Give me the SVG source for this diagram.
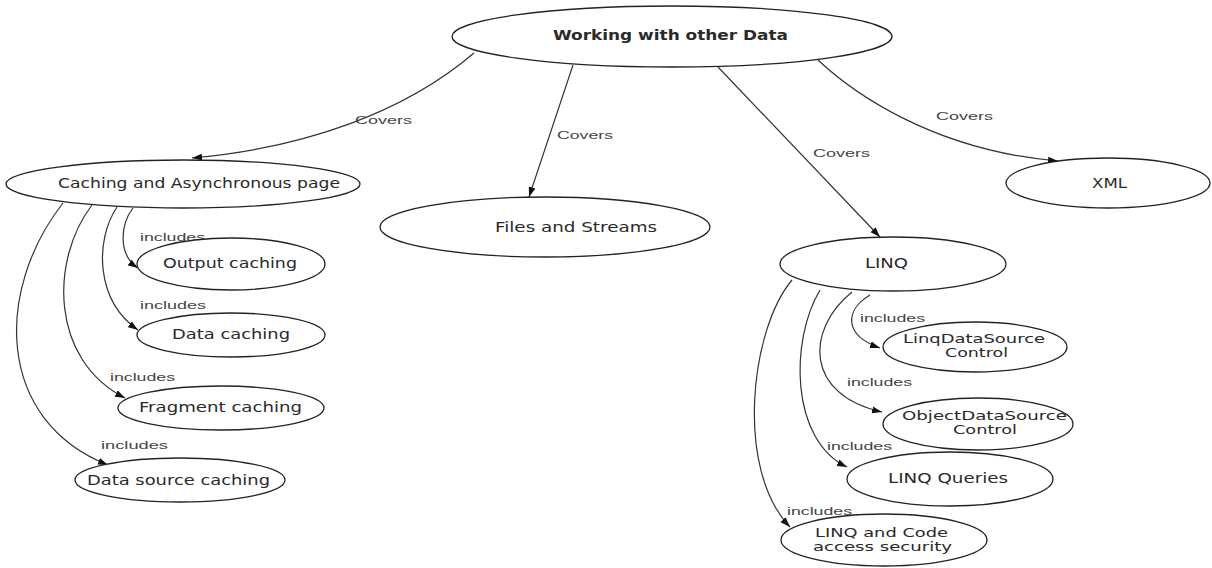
<svg xmlns="http://www.w3.org/2000/svg" width="1212" height="568" viewBox="0 0 1212 568">
<defs>
<style>
.node ellipse{fill:#fff;stroke:#222;stroke-width:1.3}
.node text{font-family:"DejaVu Sans",Verdana,sans-serif;font-size:13.5px;fill:#2a2a2a}
.node text.b{font-weight:bold}
.node text.s{font-size:12px}
.edge{fill:none;stroke:#333;stroke-width:1.2;marker-end:url(#arr)}
.lbl{font-family:"Liberation Sans",Arial,sans-serif;font-size:11.5px;fill:#444}
</style>
<marker id="arr" markerUnits="userSpaceOnUse" markerWidth="11" markerHeight="8" refX="10" refY="4" orient="auto">
<path d="M0,0.5 L10,4 L0,7.5 Z" fill="#111"/>
</marker>
</defs>
<rect width="1212" height="568" fill="#fff"/>
<g id="connectors">
<path class="edge" d="M474,53 C405,112 305,148 192,158"/>
<path class="edge" d="M573,65 L529,197"/>
<path class="edge" d="M718,67 L880,237"/>
<path class="edge" d="M818,60 C850,90 930,150 1058,161"/>
<path class="edge" d="M133,208 C120,225 118,255 138,268"/>
<path class="edge" d="M117,207 C95,240 95,300 138,330"/>
<path class="edge" d="M92,205 C50,260 50,360 125,398"/>
<path class="edge" d="M63,203 C-5,290 -5,420 108,465"/>
<path class="edge" d="M870,295 C845,310 843,335 880,348"/>
<path class="edge" d="M852,292 C805,330 805,395 882,412"/>
<path class="edge" d="M820,290 C790,340 790,440 847,467"/>
<path class="edge" d="M792,280 C750,330 735,470 790,527"/>
<text class="lbl" x="355" y="124" textLength="57" lengthAdjust="spacingAndGlyphs">Covers</text>
<text class="lbl" x="557" y="139" textLength="56" lengthAdjust="spacingAndGlyphs">Covers</text>
<text class="lbl" x="813" y="157" textLength="57" lengthAdjust="spacingAndGlyphs">Covers</text>
<text class="lbl" x="936" y="120" textLength="57" lengthAdjust="spacingAndGlyphs">Covers</text>
<text class="lbl" x="140" y="241" textLength="65" lengthAdjust="spacingAndGlyphs">includes</text>
<text class="lbl" x="140" y="309" textLength="66" lengthAdjust="spacingAndGlyphs">includes</text>
<text class="lbl" x="110" y="381" textLength="65" lengthAdjust="spacingAndGlyphs">includes</text>
<text class="lbl" x="101" y="449" textLength="67" lengthAdjust="spacingAndGlyphs">includes</text>
<text class="lbl" x="860" y="322" textLength="65" lengthAdjust="spacingAndGlyphs">includes</text>
<text class="lbl" x="847" y="386" textLength="65" lengthAdjust="spacingAndGlyphs">includes</text>
<text class="lbl" x="827" y="450" textLength="65" lengthAdjust="spacingAndGlyphs">includes</text>
<text class="lbl" x="787" y="515" textLength="65" lengthAdjust="spacingAndGlyphs">includes</text>
</g>
<g id="n-working" class="node">
<ellipse cx="672" cy="36.5" rx="220" ry="30.5"/>
<text class="b" x="553" y="40" textLength="235" lengthAdjust="spacingAndGlyphs">Working with other Data</text>
</g>
<g id="n-caching" class="node">
<ellipse cx="183" cy="184" rx="177" ry="24"/>
<text x="58" y="188" textLength="282" lengthAdjust="spacingAndGlyphs">Caching and Asynchronous page</text>
</g>
<g id="n-output" class="node">
<ellipse cx="231" cy="264" rx="94" ry="26"/>
<text x="163" y="268" textLength="134" lengthAdjust="spacingAndGlyphs">Output caching</text>
</g>
<g id="n-data" class="node">
<ellipse cx="231" cy="335" rx="94" ry="22"/>
<text x="172" y="339" textLength="118" lengthAdjust="spacingAndGlyphs">Data caching</text>
</g>
<g id="n-fragment" class="node">
<ellipse cx="221" cy="408" rx="103" ry="22"/>
<text x="139" y="412" textLength="163" lengthAdjust="spacingAndGlyphs">Fragment caching</text>
</g>
<g id="n-datasource" class="node">
<ellipse cx="180" cy="480" rx="105" ry="22"/>
<text x="87" y="485" textLength="183" lengthAdjust="spacingAndGlyphs">Data source caching</text>
</g>
<g id="n-files" class="node">
<ellipse cx="545" cy="227" rx="165" ry="30"/>
<text x="495" y="232" textLength="162" lengthAdjust="spacingAndGlyphs">Files and Streams</text>
</g>
<g id="n-xml" class="node">
<ellipse cx="1108" cy="183" rx="102" ry="25"/>
<text x="1092" y="188" textLength="35" lengthAdjust="spacingAndGlyphs">XML</text>
</g>
<g id="n-linq" class="node">
<ellipse cx="893" cy="264" rx="113" ry="27"/>
<text x="865" y="268" textLength="43" lengthAdjust="spacingAndGlyphs">LINQ</text>
</g>
<g id="n-linqds" class="node">
<ellipse cx="975" cy="347" rx="92" ry="25"/>
<text class="s" x="903" y="343" textLength="142" lengthAdjust="spacingAndGlyphs">LinqDataSource</text>
<text class="s" x="945" y="357" textLength="63" lengthAdjust="spacingAndGlyphs">Control</text>
</g>
<g id="n-objds" class="node">
<ellipse cx="978" cy="424" rx="95" ry="26"/>
<text class="s" x="902" y="420" textLength="165" lengthAdjust="spacingAndGlyphs">ObjectDataSource</text>
<text class="s" x="953" y="434" textLength="64" lengthAdjust="spacingAndGlyphs">Control</text>
</g>
<g id="n-queries" class="node">
<ellipse cx="950" cy="479" rx="103" ry="27"/>
<text x="888" y="483" textLength="120" lengthAdjust="spacingAndGlyphs">LINQ Queries</text>
</g>
<g id="n-codesec" class="node">
<ellipse cx="884" cy="540" rx="103" ry="26"/>
<text class="s" x="815" y="537" textLength="133" lengthAdjust="spacingAndGlyphs">LINQ and Code</text>
<text class="s" x="813" y="551" textLength="139" lengthAdjust="spacingAndGlyphs">access security</text>
</g>
</svg>
